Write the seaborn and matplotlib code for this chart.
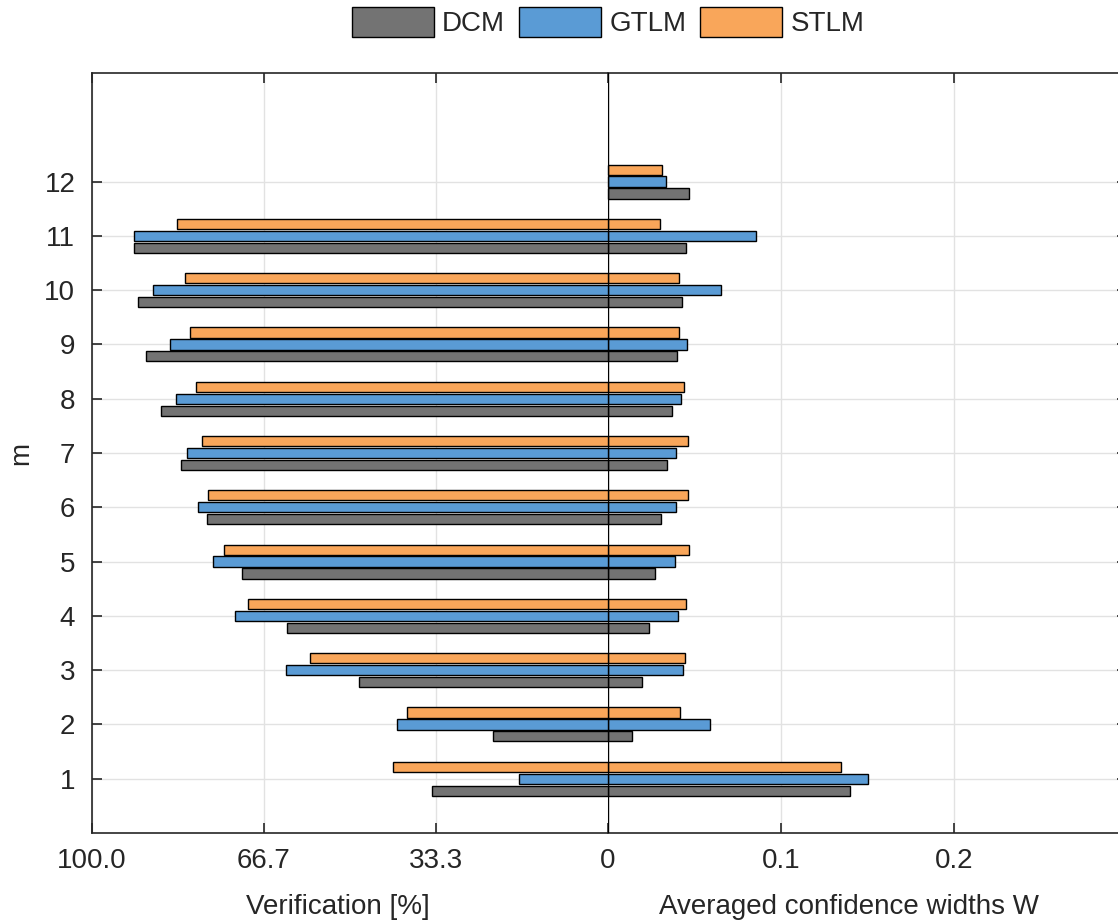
import matplotlib
matplotlib.use("Agg")
import matplotlib.pyplot as plt
from matplotlib.patches import Patch
import numpy as np
import pandas as pd
import seaborn as sns

# data
m_values = list(range(1, 13))
methods = ["DCM", "GTLM", "STLM"]

# Verification [%] (left half)
verif_dcm = [34.1, 22.2, 48.3, 62.2, 71.0, 77.7, 82.7, 86.7, 89.6, 91.1, 91.9, 0.0]
verif_gtlm = [17.3, 40.9, 62.4, 72.2, 76.6, 79.5, 81.5, 83.8, 84.9, 88.1, 91.9, 0.0]
verif_stlm = [41.7, 39.0, 57.8, 69.7, 74.4, 77.5, 78.7, 79.9, 81.0, 82.0, 83.5, 0.0]

# Averaged confidence widths W (right half)
width_dcm = [0.1397, 0.0139, 0.0197, 0.0239, 0.0272, 0.0306, 0.0339, 0.0372, 0.0401, 0.0428, 0.0453, 0.0470]
width_gtlm = [0.1500, 0.0588, 0.0435, 0.0403, 0.0387, 0.0393, 0.0395, 0.0422, 0.0455, 0.0653, 0.0854, 0.0335]
width_stlm = [0.1347, 0.0416, 0.0443, 0.0453, 0.0466, 0.0460, 0.0464, 0.0441, 0.0409, 0.0409, 0.0303, 0.0312]

colors = {"DCM": "#737373", "GTLM": "#5A9BD5", "STLM": "#F9A65A"}

# long format table
df = pd.DataFrame({
    "m": m_values * 3,
    "method": np.repeat(methods, len(m_values)),
    "verif": verif_dcm + verif_gtlm + verif_stlm,
    "width": width_dcm + width_gtlm + width_stlm,
})

sns.set_style("whitegrid")
plt.rcParams["font.family"] = ["Liberation Sans", "DejaVu Sans"]
text_col = "#262626"

W, H = 1118, 924
fig = plt.figure(figsize=(W / 100, H / 100), dpi=100)
bottom = 1 - 833 / H
height = 760 / H
ax_l = fig.add_axes([92 / W, bottom, 516 / W, height])
ax_r = fig.add_axes([608 / W, bottom, 519 / W, height], sharey=ax_l)

bar_kw = dict(y="m", hue="method", hue_order=methods, palette=colors, orient="h",
              native_scale=True, width=0.66, gap=0.15, errorbar=None,
              edgecolor="black", linewidth=1.0, saturation=1, legend=False)
sns.barplot(data=df, x="verif", ax=ax_l, **bar_kw)
sns.barplot(data=df, x="width", ax=ax_r, **bar_kw)

ax_l.set_xlim(100, 0)
ax_r.set_xlim(0, 0.3)
ax_l.set_ylim(0, 14)

ax_l.set_xticks([100, 200 / 3, 100 / 3, 0], labels=["100.0", "66.7", "33.3", "0"])
ax_r.set_xticks([0.1, 0.2], labels=["0.1", "0.2"])
ax_l.set_yticks(m_values, labels=[str(v) for v in m_values])

for ax in (ax_l, ax_r):
    ax.set_axisbelow(True)
    ax.grid(True, color="#e2e2e2", lw=1.0)
    for s in ax.spines.values():
        s.set_color(text_col)
        s.set_linewidth(1.2)
    ax.tick_params(direction="in", length=7, width=1.2, color=text_col,
                   labelcolor=text_col, labelsize=20, top=True, bottom=True)
    ax.tick_params(axis="x", pad=11)

ax_l.spines["right"].set_visible(False)
ax_r.spines["left"].set_visible(False)
ax_l.tick_params(axis="y", left=True, right=False, pad=12)
ax_r.tick_params(axis="y", left=False, right=True, labelleft=False)

# zero line between the two halves
ax_r.axvline(0, color="black", lw=1.0, zorder=5)

ax_l.set_xlabel("Verification [%]", fontsize=20, color=text_col)
ax_r.set_xlabel("Averaged confidence widths W", fontsize=20, color=text_col)
ax_l.xaxis.set_label_coords(0.477, -0.08)
ax_r.xaxis.set_label_coords(0.464, -0.08)
ax_l.set_ylabel("m", fontsize=20, color=text_col)
ax_l.yaxis.set_label_coords(-0.112, 0.5)
ax_r.set_ylabel("")

handles = [Patch(facecolor=colors[k], edgecolor="black", linewidth=1.0) for k in methods]
fig.legend(handles, methods, loc="center", bbox_to_anchor=(608 / W, 1 - 22 / H),
           ncol=3, frameon=False, fontsize=20, handlelength=2.95, handleheight=1.3,
           handletextpad=0.3, columnspacing=0.5, labelcolor=text_col)

fig.savefig("out.png", dpi=100)
